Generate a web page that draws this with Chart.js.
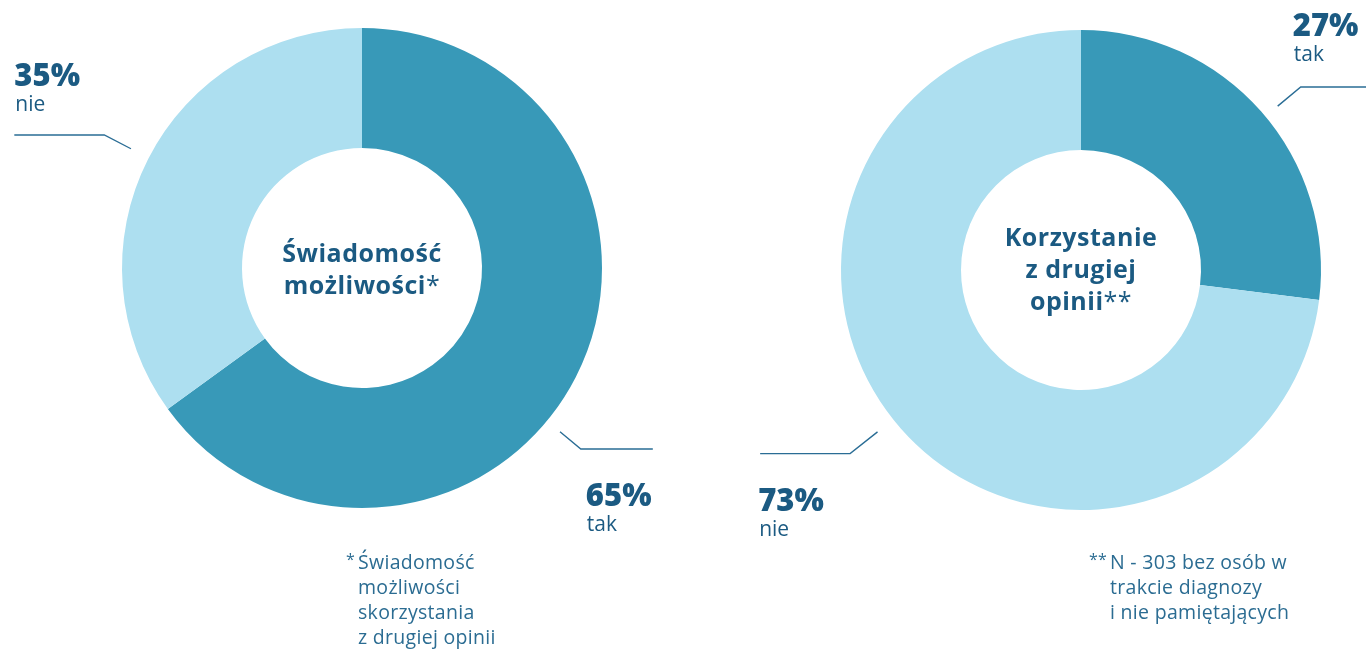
<!DOCTYPE html>
<html>
<head>
<meta charset="utf-8">
<script src="https://cdn.jsdelivr.net/npm/chart.js@4"></script>
<style>
  html, body { margin: 0; padding: 0; background: #fff; }
  body { width: 1366px; height: 653px; position: relative; overflow: hidden; font-family: "Open Sans", sans-serif; }
  .wrap { position: absolute; top: 0; width: 683px; height: 653px; }
  .center { position: absolute; color: #1b5a82; font-weight: 700; font-size: 25px; letter-spacing: 0.5px; line-height: 32px; text-align: center; }
  .center span { font-weight: 400; }
  .note { position: absolute; color: #2b6c92; font-size: 19.5px; letter-spacing: 0.3px; line-height: 25px; }
  .note b { position: absolute; font-weight: 400; font-size: 16px; top: -2px; }
</style>
</head>
<body>
<div class="wrap" style="left:0"><canvas id="left"></canvas></div>
<div class="wrap" style="left:683px"><canvas id="right"></canvas></div>

<div class="center" style="left:242px; top:236px; width:240px;">Świadomość<br>możliwości<span>*</span></div>
<div class="center" style="left:961px; top:220px; width:240px;">Korzystanie<br>z drugiej<br>opinii<span>**</span></div>

<div class="note" style="left:358px; top:549px;"><b style="left:-12px">*</b>Świadomość<br>możliwości<br>skorzystania<br>z drugiej opinii</div>
<div class="note" style="left:1110px; top:549px;"><b style="left:-21px">**</b>N - 303 bez osób w<br>trakcie diagnozy<br>i nie pamiętających</div>

<script>
// data
const leftLabels = ['tak', 'nie'];
const leftValues = [65, 35];
const rightLabels = ['tak', 'nie'];
const rightValues = [27, 73];

const darkBlue = '#3899b8';
const lightBlue = '#addff0';
const textColor = '#1b5a82';
const lineColor = '#2a6d95';

// leader lines: angle clockwise from top (deg), radii, horizontal length, text offset from knee
const calloutPlugin = {
  id: 'callouts',
  afterDatasetsDraw(chart, args, opts) {
    const ctx = chart.ctx;
    const meta = chart.getDatasetMeta(0);
    const arc = meta.data[0];
    const cx = arc.x, cy = arc.y;
    const ds = chart.data.datasets[0];
    ctx.save();
    opts.items.forEach((c, i) => {
      const a = (c.angle - 90) * Math.PI / 180;
      const x1 = cx + c.r1 * Math.cos(a), y1 = cy + c.r1 * Math.sin(a);
      const x2 = cx + c.r2 * Math.cos(a), y2 = cy + c.r2 * Math.sin(a);
      const dir = Math.cos(a) >= 0 ? 1 : -1;
      const x3 = x2 + dir * c.len;
      ctx.strokeStyle = lineColor;
      ctx.lineWidth = 1.4;
      ctx.beginPath();
      ctx.moveTo(x1, y1);
      ctx.lineTo(x2, y2);
      ctx.lineTo(x3, y2);
      ctx.stroke();

      const tx = (dir > 0 ? x2 : x3) + c.dx;
      ctx.fillStyle = textColor;
      ctx.textAlign = 'left';
      ctx.textBaseline = 'alphabetic';
      ctx.font = '800 31px "Open Sans"';
      ctx.fillText(ds.data[i] + '%', tx, y2 + c.dy);
      ctx.font = '400 21px "Open Sans"';
      ctx.fillText(chart.data.labels[i], tx + 1, y2 + c.dy + 25);
    });
    ctx.restore();
  }
};

function makeChart(id, labels, values, padding, items) {
  return new Chart(document.getElementById(id), {
    type: 'doughnut',
    data: {
      labels: labels,
      datasets: [{
        data: values,
        backgroundColor: [darkBlue, lightBlue],
        borderWidth: 0
      }]
    },
    options: {
      responsive: true,
      maintainAspectRatio: false,
      animation: false,
      cutout: '50%',
      layout: { padding: padding },
      plugins: {
        legend: { display: false },
        tooltip: { enabled: false },
        callouts: { items: items }
      }
    },
    plugins: [calloutPlugin]
  });
}

makeChart('left', leftLabels, leftValues,
  { left: 122, right: 81, top: 28, bottom: 145 },
  [
    { angle: 129.6, r1: 257, r2: 284, len: 72, dx: 5, dy: 57 },
    { angle: 297.3, r1: 260, r2: 290, len: 90, dx: 0, dy: -49 }
  ]);

makeChart('right', rightLabels, rightValues,
  { left: 158, right: 45, top: 30, bottom: 143 },
  [
    { angle: 50.2, r1: 256, r2: 286, len: 70, dx: -8, dy: -51 },
    { angle: 231.5, r1: 260, r2: 295, len: 90, dx: -2, dy: 57 }
  ]);
</script>
</body>
</html>
